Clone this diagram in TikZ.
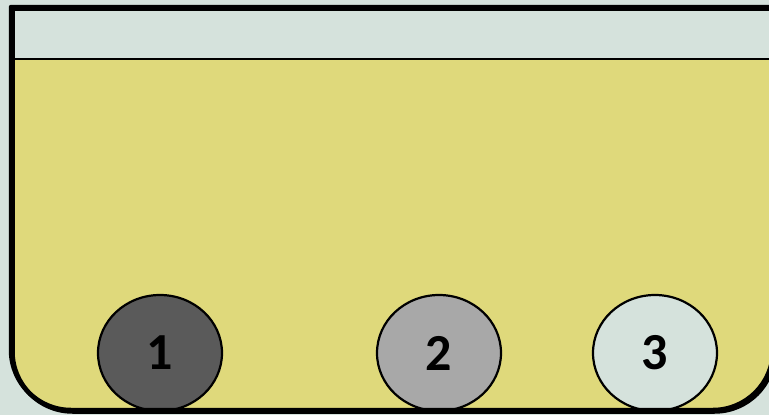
\documentclass[tikz,border=0pt]{standalone}
\usepackage{fontspec}
\setmainfont{Carlito}
\usetikzlibrary{shapes.geometric, positioning}

\definecolor{bgmint}{HTML}{D5E2DC}
\definecolor{liquid}{HTML}{DFD97B}
\definecolor{darkball}{HTML}{5A5A5A}
\definecolor{midball}{HTML}{A8A8A8}

\begin{document}
\begin{tikzpicture}[x=1pt, y=-1pt,
      ball/.style={ellipse, draw, line width=2.2pt, minimum width=124pt,
                   minimum height=116pt, inner sep=0pt,
                   font=\fontsize{52}{52}\selectfont\bfseries},
      wall/.style={line width=4.5pt, line join=round}
    ]

    % background
    \fill[bgmint] (0,0) rectangle (769,415);
    \useasboundingbox (0,0) rectangle (769,415);

    % liquid in the vessel
    \fill[liquid] (773,59) -- (11,59) [rounded corners=60pt] -- (11,410) -- (773,410) -- (773,59);
    \draw[line width=2pt] (11,59) -- (773,59);

    % balls
    \node[ball, fill=darkball] (ball1) at (160,353) {1};
    \node[ball, fill=midball] (ball2) at (439,353) {2};
    \node[ball, fill=bgmint] (ball3) at (655,353) {3};

    % vessel walls (with shadow)
    \draw[wall, xshift=1.5pt, yshift=-1.5pt] (773,7) -- (11,7) [rounded corners=60pt] -- (11,410) -- (773,410) -- (773,7);
    \draw[wall] (773,7) -- (11,7) [rounded corners=60pt] -- (11,410) -- (773,410) -- (773,7);

  \end{tikzpicture}
\end{document}
